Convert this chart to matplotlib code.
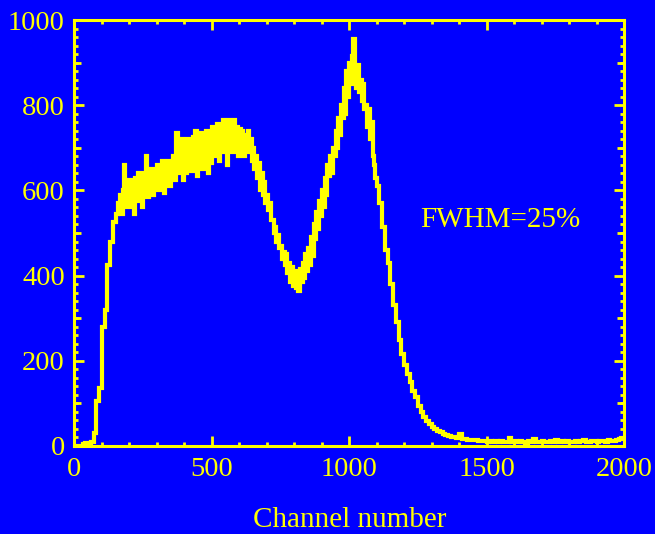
import numpy as np
import matplotlib
matplotlib.use('Agg')
import matplotlib.pyplot as plt

# spectrum
# channels 0-150, 10-channel bins
counts_low = [0, 0, 0, 4, 6, 2, 9, 30, 105, 135, 280, 320, 425, 480, 525, 545]
# channels 160-715, 5-channel bins (the noisy shoulder)
counts_band = [
    570, 590, 545, 600, 660, 560, 610, 575,
    625, 560, 600, 545, 630, 590, 640, 575,
    610, 560, 640, 600, 680, 585, 625, 600,
    650, 590, 630, 610, 660, 600, 640, 610,
    670, 595, 655, 625, 670, 610, 650, 630,
    680, 625, 735, 640, 700, 650, 720, 625,
    690, 640, 720, 660, 700, 645, 725, 660,
    740, 635, 710, 675, 735, 650, 700, 680,
    740, 640, 725, 665, 750, 680, 720, 690,
    755, 670, 730, 700, 765, 690, 745, 660,
    765, 700, 740, 690, 765, 710, 750, 680,
    745, 700, 740, 680, 730, 690, 740, 700,
    720, 670, 700, 650, 680, 630, 665, 600,
    640, 590, 620, 570, 590, 555, 570, 530,
]
# channels 720-1095, 5-channel bins (valley and peak)
counts_peak = [
    530, 500, 515, 480, 495, 465, 470, 440,
    455, 425, 450, 405, 430, 385, 420, 375,
    410, 370, 395, 365, 415, 385, 430, 395,
    450, 410, 465, 425, 490, 445, 520, 485,
    550, 510, 575, 540, 600, 560, 630, 590,
    660, 635, 680, 640, 700, 680, 740, 700,
    770, 730, 800, 770, 840, 780, 880, 820,
    900, 850, 915, 955, 880, 840, 895, 830,
    860, 810, 850, 790, 800, 750, 790, 720,
    760, 680, 660, 630,
]
# channels 1100-1990, 10-channel bins
counts_high = [
    610, 570, 515, 460, 430, 380, 330, 290, 250, 215,
    190, 170, 150, 130, 115, 95, 80, 68, 58, 52,
    45, 40, 36, 32, 28, 26, 24, 22, 20, 19,
    28, 17, 16, 15, 14, 13, 14, 12, 12, 11,
    10, 12, 9, 11, 10, 12, 9, 10, 18, 10,
    11, 9, 12, 10, 8, 11, 10, 16, 9, 10,
    12, 10, 9, 11, 10, 14, 9, 11, 10, 12,
    10, 9, 11, 10, 12, 13, 10, 9, 12, 11,
    10, 12, 11, 10, 13, 11, 12, 14, 16, 18,
]
counts = counts_low + counts_band + counts_peak + counts_high
edges = np.concatenate([np.arange(0, 160, 10), np.arange(160, 1100, 5),
                        np.arange(1100, 2001, 10)])

yellow = '#ffff00'
blue = '#0000ff'
plt.rcParams['font.family'] = ['Liberation Serif', 'DejaVu Serif']

fig = plt.figure(figsize=(6.55, 5.34), dpi=100, facecolor=blue)
ax = fig.add_axes([0.1137, 0.1648, 0.8390, 0.7977], facecolor=blue)

ax.stairs(counts, edges, baseline=None, color=yellow, lw=3.0)

ax.set_xlim(0, 2000)
ax.set_ylim(0, 1000)
ax.set_xticks(np.arange(0, 2001, 500))
ax.set_xticks(np.arange(0, 2001, 100), minor=True)
ax.set_yticks(np.arange(0, 1001, 200))
ax.set_yticks(np.arange(0, 1001, 20), minor=True)

for s in ax.spines.values():
    s.set_color(yellow)
    s.set_linewidth(2.2)

ax.tick_params(which='both', direction='in', colors=yellow, width=2.0,
               top=True, right=True, labelsize=20.5)
ax.tick_params(which='major', length=7.5)
ax.tick_params(which='minor', length=3.2)
ax.tick_params(axis='x', which='major', pad=8)
ax.tick_params(axis='y', which='major', pad=7)

# medium ticks at odd hundreds on both y sides
for side in ('left', 'right'):
    sec = ax.secondary_yaxis(side)
    sec.set_yticks(np.arange(100, 1000, 200))
    sec.tick_params(direction='in', colors=yellow, width=2.0, length=5.2,
                    labelleft=False, labelright=False)
    sec.spines[side].set_visible(False)

ax.set_xlabel('Channel number', color=yellow, fontsize=21, labelpad=18)
ax.text(1550, 530, 'FWHM=25%', color=yellow, fontsize=21,
        ha='center', va='center')

fig.savefig('out.png', dpi=100, facecolor=blue)
